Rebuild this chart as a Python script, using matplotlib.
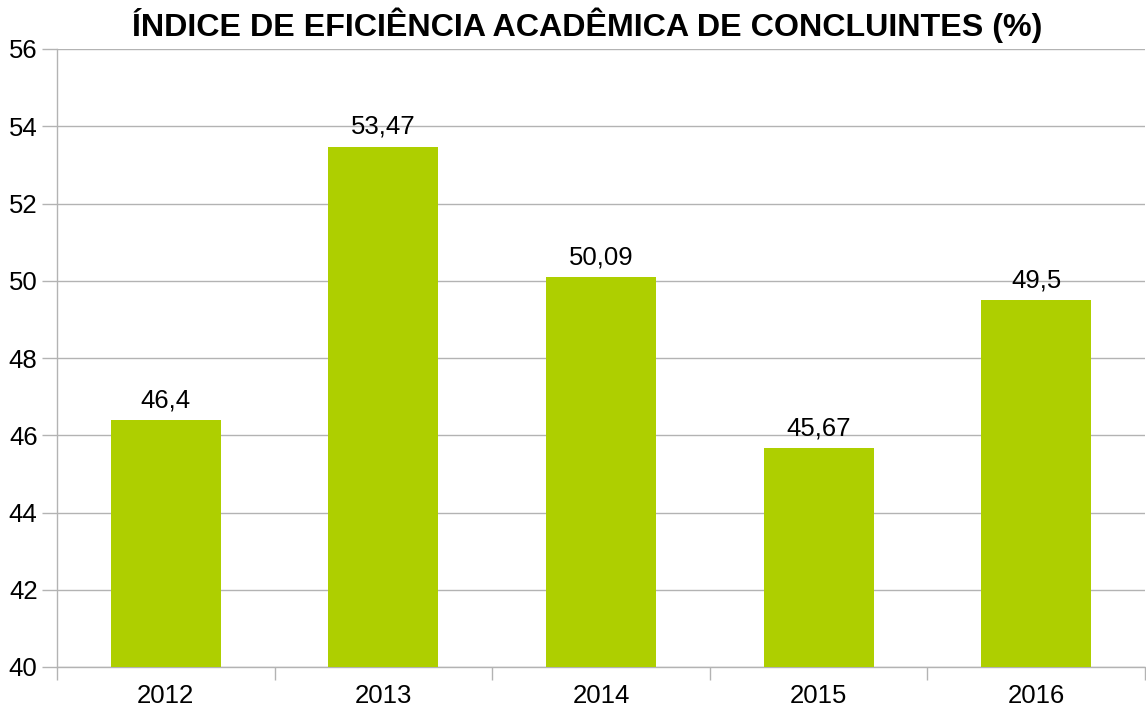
import matplotlib.pyplot as plt
import numpy as np

anos = ["2012", "2013", "2014", "2015", "2016"]
indice = [46.4, 53.47, 50.09, 45.67, 49.5]
rotulos = ["46,4", "53,47", "50,09", "45,67", "49,5"]
y_ticks = [40, 42, 44, 46, 48, 50, 52, 54, 56]

plt.rcParams["font.family"] = ["Liberation Sans", "DejaVu Sans"]

fig = plt.figure(figsize=(11.46, 7.15), dpi=100)
ax = fig.add_axes([57 / 1146, 48 / 715, 1088 / 1146, 618 / 715])

x = np.arange(len(anos))
ax.bar(x, indice, width=0.505, color="#aecf00", zorder=3)

for xi, v, r in zip(x, indice, rotulos):
    ax.text(xi, v + 0.2, r, ha="center", va="bottom", fontsize=18.5, color="black")

ax.set_ylim(40, 56)
ax.set_xlim(-0.5, len(anos) - 0.5)
ax.set_yticks(y_ticks)
ax.set_yticklabels([str(t) for t in y_ticks], fontsize=18.5)
ax.yaxis.grid(True, color="#b3b3b3", linewidth=1, zorder=0)

ax.set_xticks(np.arange(-0.5, len(anos), 1.0))
ax.set_xticklabels([])
ax.set_xticks(x, minor=True)
ax.set_xticklabels(anos, minor=True, fontsize=18.5)
ax.tick_params(axis="x", which="major", length=9, color="#b3b3b3", width=1)
ax.tick_params(axis="x", which="minor", length=0, pad=12)
ax.tick_params(axis="y", length=11, color="#b3b3b3", width=1, pad=3)

for s in ["top", "right"]:
    ax.spines[s].set_visible(False)
for s in ["left", "bottom"]:
    ax.spines[s].set_color("#b3b3b3")
    ax.spines[s].set_linewidth(1)

fig.text(587 / 1146, 1 - 25 / 715, "ÍNDICE DE EFICIÊNCIA ACADÊMICA DE CONCLUINTES (%)",
         ha="center", va="center", fontsize=23.2, fontweight="bold")

fig.savefig("out.png", dpi=100)
